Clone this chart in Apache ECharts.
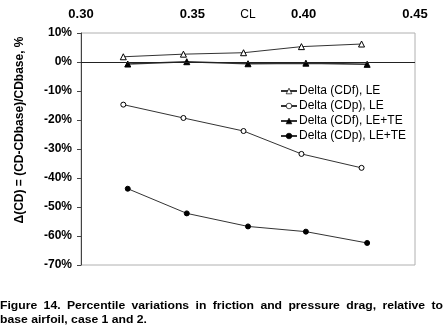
<!DOCTYPE html>
<html><head><meta charset="utf-8">
<script src="https://cdn.jsdelivr.net/npm/echarts@6/dist/echarts.min.js"></script>
<style>html,body{margin:0;padding:0;background:#fff}#c{width:445px;height:327px}</style>
</head><body><div id="c"></div>
<script>
const xTicks = [0.30, 0.35, 0.40, 0.45];
const yTicks = [10, 0, -10, -20, -30, -40, -50, -60, -70];
const seriesNames = ['Delta (CDf), LE', 'Delta (CDp), LE', 'Delta (CDf), LE+TE', 'Delta (CDp), LE+TE'];
const clLE = [0.319, 0.346, 0.373, 0.399, 0.426];
const clLETE = [0.321, 0.3475, 0.375, 0.401, 0.4285];
const cdfLE = [1.8, 2.7, 3.2, 5.3, 6.2];
const cdpLE = [-14.7, -19.3, -23.8, -31.7, -36.5];
const cdfLETE = [-0.7, 0.1, -0.6, -0.4, -0.8];
const cdpLETE = [-43.7, -52.2, -56.7, -58.5, -62.4];
const captionLines = ['Figure 14. Percentile variations in friction and pressure drag, relative to', 'base airfoil, case 1 and 2.'];
const yTitle = '\u0394(CD) = (CD-CDbase)/CDbase, %';

const pair = (xs, ys) => xs.map((x, i) => [x, ys[i]]);
const font = 'Arial, "Liberation Sans", sans-serif';
const lineCol = '#333';

function mk(name, data, symbol, filled, size, lw) {
  return {
    name, type: 'line', data, symbol, symbolSize: size,
    lineStyle: { color: lineCol, width: lw },
    itemStyle: { color: filled ? '#000' : '#fff', borderColor: '#000', borderWidth: 1 },
    emphasis: { disabled: true }, animation: false
  };
}
const s = [
  mk(seriesNames[0], pair(clLE, cdfLE), 'triangle', false, 6, 1),
  mk(seriesNames[1], pair(clLE, cdpLE), 'circle', false, 5, 1),
  mk(seriesNames[2], pair(clLETE, cdfLETE), 'triangle', true, 6, 1.6),
  mk(seriesNames[3], pair(clLETE, cdpLETE), 'circle', true, 5, 1)
];
s[0].markLine = { silent: true, symbol: 'none', label: { show: false },
  lineStyle: { color: '#222', width: 1, type: 'solid' }, data: [{ yAxis: 0 }], animation: false };

// caption: bold, slightly stretched, first line justified across the width
const capFont = 'bold 11px Arial, "Liberation Sans", sans-serif';
const ctx = document.createElement('canvas').getContext('2d');
ctx.font = capFont;
const capScale = 147 / ctx.measureText(captionLines[1]).width;
function justified(line, y, width) {
  const words = line.split(' ');
  const widths = words.map(w => ctx.measureText(w).width * capScale);
  const total = widths.reduce((a, b) => a + b, 0);
  const gap = (width - total) / (words.length - 1);
  let x = 0;
  return words.map((w, i) => {
    const el = { type: 'text', x, y, scaleX: capScale, style: { text: w, font: capFont, fill: '#000', verticalAlign: 'middle' } };
    x += widths[i] + gap;
    return el;
  });
}

const chart = echarts.init(document.getElementById('c'));
chart.setOption({
  animation: false,
  backgroundColor: '#fff',
  grid: { left: 81, right: 30, top: 33, bottom: 62, outerBoundsMode: 'none', containLabel: false,
    show: true, borderColor: '#b0b0b0', borderWidth: 1, backgroundColor: '#fff' },
  xAxis: {
    type: 'value', position: 'top', min: xTicks[0], max: xTicks[xTicks.length - 1], interval: 0.05,
    name: 'CL', nameLocation: 'middle', nameGap: 12, nameMoveOverlap: false,
    nameTextStyle: { fontFamily: font, fontSize: 12, color: '#000' },
    axisLine: { show: false }, axisTick: { show: false }, splitLine: { show: false },
    axisLabel: { fontFamily: font, fontSize: 13, fontWeight: 'bold', color: '#000', margin: 12,
      formatter: v => v.toFixed(2) }
  },
  yAxis: {
    type: 'value', min: yTicks[yTicks.length - 1], max: yTicks[0], interval: 10,
    axisLine: { show: true, onZero: false, lineStyle: { color: '#444', width: 1 } },
    axisTick: { show: true, inside: false, length: 4, lineStyle: { color: '#444' } },
    splitLine: { show: false },
    axisLabel: { fontFamily: font, fontSize: 12, fontWeight: 'bold', color: '#000', margin: 9,
      formatter: v => v + '%' }
  },
  legend: {
    orient: 'vertical', left: 280, top: 85, padding: 0, itemWidth: 16, itemHeight: 7, itemGap: 3,
    itemStyle: { borderWidth: 0.7 },
    textStyle: { fontFamily: font, fontSize: 12, color: '#000', padding: [0, 0, 0, -3] },
    data: seriesNames, selectedMode: false, backgroundColor: 'transparent'
  },
  graphic: [
    { type: 'text', x: 20, y: 130, rotation: Math.PI / 2,
      style: { text: yTitle, fontFamily: font, fontSize: 12, fontWeight: 'bold', fill: '#000',
        align: 'center', verticalAlign: 'middle' } },
    ...justified(captionLines[0], 306, 443),
    { type: 'text', x: 0, y: 320, scaleX: capScale,
      style: { text: captionLines[1], font: capFont, fill: '#000', verticalAlign: 'middle' } }
  ],
  series: s
});
</script></body></html>
